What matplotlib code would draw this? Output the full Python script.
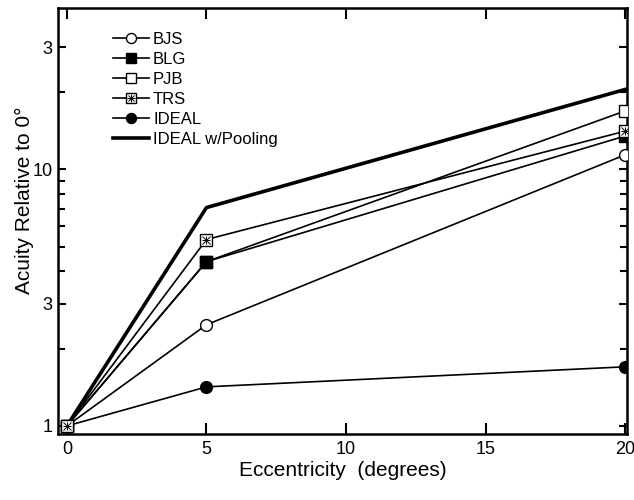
import matplotlib
matplotlib.use("Agg")
import matplotlib.pyplot as plt
from matplotlib.legend_handler import HandlerTuple
from matplotlib.ticker import FixedLocator, NullFormatter

plt.rcParams['font.family'] = ['Liberation Sans', 'DejaVu Sans']

ecc = [0, 5, 20]
bjs = [1.0, 2.48, 11.4]
blg = [1.0, 4.37, 13.5]
pjb = [1.0, 4.37, 16.9]
trs = [1.0, 5.33, 14.1]
ideal = [1.0, 1.42, 1.70]
pooling = [1.0, 7.1, 20.5]

xticks = [0, 5, 10, 15, 20]
yticks = [1, 3, 10, 30]
ytick_labels = ["1", "3", "10", "3"]
yminor = [2, 4, 5, 6, 7, 8, 9, 20]

fig = plt.figure(figsize=(6.34, 5.0), dpi=100)
ax = fig.add_axes([0.0915, 0.132, 0.8975, 0.852])

lw = 1.2
ms = 8.5
h_bjs, = ax.plot(ecc, bjs, '-o', color='black', lw=lw, ms=ms, mfc='white', mec='black', mew=1.0, zorder=3)
h_pjb, = ax.plot(ecc, pjb, '-s', color='black', lw=lw, ms=ms, mfc='white', mec='black', mew=1.0, zorder=3)
h_blg, = ax.plot(ecc, blg, '-s', color='black', lw=lw, ms=ms, mfc='black', mec='black', mew=1.0, zorder=4)
h_trs, = ax.plot(ecc, trs, '-s', color='black', lw=lw, ms=ms, mfc='white', mec='black', mew=1.0, zorder=5)
h_trs_x, = ax.plot(ecc, trs, 'x', color='black', ms=ms*0.6, mew=0.7, zorder=6)
h_trs_p, = ax.plot(ecc, trs, '+', color='black', ms=ms*0.75, mew=0.7, zorder=6)
h_ideal, = ax.plot(ecc, ideal, '-o', color='black', lw=lw, ms=ms, mfc='black', mec='black', zorder=3)
h_pool, = ax.plot(ecc, pooling, '-', color='black', lw=2.6, zorder=2)

ax.set_yscale('log')
ax.set_xlim(-0.32, 20.07)
ax.set_ylim(0.93, 42.6)
ax.yaxis.set_major_locator(FixedLocator(yticks))
ax.set_yticklabels(ytick_labels)
ax.yaxis.set_minor_locator(FixedLocator(yminor))
ax.yaxis.set_minor_formatter(NullFormatter())
ax.set_xticks(xticks)

ax.tick_params(which='both', direction='in', top=True, right=True, width=1.5, labelsize=13, colors='black')
ax.tick_params(which='major', axis='x', length=8, pad=5)
ax.tick_params(which='major', axis='y', length=6, pad=4)
ax.tick_params(which='minor', length=5)
for s in ax.spines.values():
    s.set_linewidth(1.8)

ax.set_xlabel('Eccentricity  (degrees)', fontsize=15, labelpad=2.5)
ax.set_ylabel('Acuity Relative to 0°', fontsize=15)
ax.yaxis.set_label_coords(-0.042, 0.549)

handles = [h_bjs, h_blg, h_pjb, (h_trs, h_trs_x, h_trs_p), h_ideal, h_pool]
labels = ['BJS', 'BLG', 'PJB', 'TRS', 'IDEAL', 'IDEAL w/Pooling']
leg = ax.legend(handles, labels, loc='upper left', bbox_to_anchor=(0.0967, 0.944),
                frameon=False, fontsize=12, handlelength=2.15, handletextpad=0.25,
                labelspacing=0.3, markerscale=0.85, borderpad=0, borderaxespad=0,
                handler_map={tuple: HandlerTuple(ndivide=1, pad=0)})

fig.savefig('out.png', dpi=100)
